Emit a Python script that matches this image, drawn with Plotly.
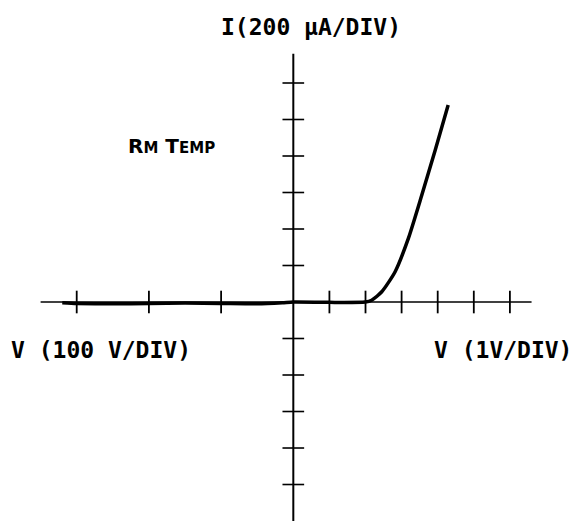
import plotly.graph_objects as go

# ---- data (in screen divisions) ----
right_ticks = [1, 2, 3, 4, 5, 6]      # 1 V/DIV side
left_ticks = [-2, -4, -6]             # 100 V/DIV side
up_ticks = [1, 2, 3, 4, 5, 6]         # 200 uA/DIV
down_ticks = [-1, -2, -3, -4, -5]
h_axis_x = [-7.0, 6.6]
v_axis_y = [-6.0, 6.8]

trace_v = [-6.4, -6.0, -5.0, -4.0, -3.0, -2.0, -1.0, -0.3, 0.0, 1.0, 1.99,
           2.17, 2.45, 2.82, 3.19, 3.56, 3.93, 4.29]
trace_i = [-0.02, -0.04, -0.05, -0.04, -0.03, -0.04, -0.05, -0.02, 0.0, -0.01, 0.0,
           0.05, 0.28, 0.83, 1.75, 2.93, 4.16, 5.40]

X_RANGE = [-8.125, 7.831]
Y_RANGE = [-6.219, 8.274]

fig = go.Figure()

# axes
fig.add_trace(go.Scatter(x=h_axis_x, y=[0, 0], mode="lines",
                         line=dict(color="black", width=1.6), hoverinfo="skip"))
fig.add_trace(go.Scatter(x=[0, 0], y=v_axis_y, mode="lines",
                         line=dict(color="black", width=2), hoverinfo="skip"))

# ticks on horizontal axis
tx, ty = [], []
for t in left_ticks + right_ticks:
    tx += [t, t, None]
    ty += [-0.31, 0.31, None]
fig.add_trace(go.Scatter(x=tx, y=ty, mode="lines",
                         line=dict(color="black", width=1.8), hoverinfo="skip"))

# ticks on vertical axis
vx, vy = [], []
for t in up_ticks + down_ticks:
    vx += [-0.3, 0.3, None]
    vy += [t, t, None]
fig.add_trace(go.Scatter(x=vx, y=vy, mode="lines",
                         line=dict(color="black", width=1.6), hoverinfo="skip"))

# I-V trace
fig.add_trace(go.Scatter(x=trace_v, y=trace_i, mode="lines",
                         line=dict(color="black", width=3.5, shape="spline", smoothing=0.6),
                         hoverinfo="skip"))

W, H = 576, 529
def px(x, y):
    return x / W, 1 - y / H

font_lab = dict(family="DejaVu Sans Mono", size=23, color="black", weight="bold")

annos = []
x, y = px(311, 27)
annos.append(dict(text="I(200 μA/DIV)", x=x, y=y, xanchor="center", yanchor="middle"))
x, y = px(9, 350)
annos.append(dict(text="V (100 V/DIV)", x=x, y=y, xanchor="left", yanchor="middle"))
x, y = px(574, 350)
annos.append(dict(text="V (1V/DIV)", x=x, y=y, xanchor="right", yanchor="middle"))
for a in annos:
    a.update(xref="paper", yref="paper", showarrow=False, font=font_lab)
    fig.add_annotation(**a)

x, y = px(126, 146)
fig.add_annotation(
    text="R<span style='font-size:15px'>M</span> T<span style='font-size:15px'>EMP</span>",
    x=x, y=y, xref="paper", yref="paper", xanchor="left", yanchor="middle",
    showarrow=False,
    font=dict(family="DejaVu Sans", size=20, color="black", weight="bold"))

fig.update_layout(
    width=W, height=H, autosize=False,
    margin=dict(l=0, r=0, t=0, b=0),
    paper_bgcolor="white", plot_bgcolor="white",
    showlegend=False,
    xaxis=dict(range=X_RANGE, visible=False, fixedrange=True),
    yaxis=dict(range=Y_RANGE, visible=False, fixedrange=True),
)

fig.write_html("out.html", config={"displayModeBar": False},
               post_script="document.body.style.margin='0px';document.body.style.overflow='hidden';")
